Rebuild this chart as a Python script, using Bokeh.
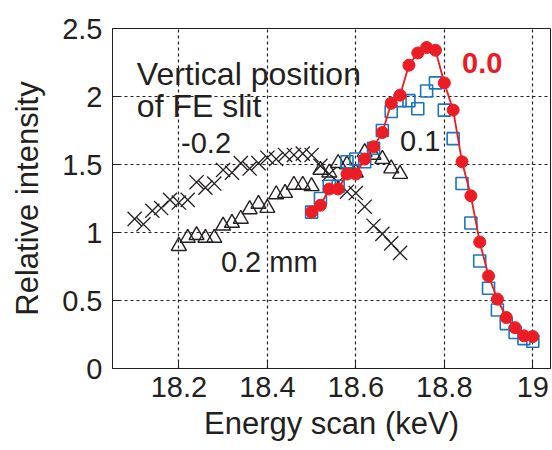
from bokeh.plotting import figure
from bokeh.models import (Range1d, FixedTicker, CustomJSTickFormatter, Label)
from bokeh.embed import file_html
from bokeh.resources import INLINE

# ---- data ----
red_x = [18.50, 18.52, 18.54, 18.56, 18.58, 18.60, 18.62, 18.64, 18.66, 18.68, 18.70, 18.72, 18.74,
         18.76, 18.78, 18.80, 18.82, 18.84, 18.86, 18.88, 18.90, 18.92, 18.94, 18.96, 18.98, 19.00]
red_y = [1.15, 1.20, 1.32, 1.32, 1.43, 1.43, 1.54, 1.63, 1.735, 1.95, 2.01, 2.23, 2.32,
         2.36, 2.34, 2.10, 1.90, 1.52, 1.27, 0.93, 0.68, 0.51, 0.375, 0.30, 0.24, 0.235]

blue_x = [18.50, 18.52, 18.54, 18.56, 18.58, 18.60, 18.62, 18.64, 18.66, 18.68, 18.70, 18.72, 18.74,
          18.76, 18.78, 18.80, 18.82, 18.84, 18.86, 18.88, 18.90, 18.92, 18.94, 18.96, 18.98, 19.00]
blue_y = [1.15, 1.25, 1.34, 1.34, 1.52, 1.54, 1.52, 1.62, 1.75, 1.89, 1.97, 1.97, 1.91,
          2.04, 2.10, 1.90, 1.69, 1.36, 1.07, 0.79, 0.59, 0.43, 0.33, 0.265, 0.22, 0.20]

tri_x = [18.20, 18.22, 18.24, 18.26, 18.28, 18.30, 18.32, 18.34, 18.36, 18.38, 18.40, 18.42, 18.44,
         18.46, 18.48, 18.50, 18.52, 18.54, 18.56, 18.58, 18.60, 18.62, 18.64, 18.66, 18.68, 18.70]
tri_y = [0.90, 0.96, 0.98, 0.96, 0.96, 1.05, 1.07, 1.10, 1.17, 1.21, 1.18, 1.28, 1.29,
         1.35, 1.35, 1.34, 1.46, 1.44, 1.51, 1.50, 1.44, 1.59, 1.57, 1.54, 1.47, 1.43]

crs_x = [18.10, 18.12, 18.14, 18.16, 18.18, 18.20, 18.22, 18.24, 18.26, 18.28, 18.30, 18.32, 18.34,
         18.36, 18.38, 18.40, 18.42, 18.44, 18.46, 18.48, 18.50, 18.52, 18.54, 18.56, 18.58, 18.60,
         18.62, 18.64, 18.66, 18.68, 18.70]
crs_y = [1.10, 1.06, 1.16, 1.18, 1.24, 1.22, 1.24, 1.37, 1.33, 1.36, 1.46, 1.44, 1.51,
         1.47, 1.51, 1.55, 1.54, 1.57, 1.57, 1.58, 1.57, 1.49, 1.43, 1.37, 1.30, 1.29,
         1.19, 1.05, 0.99, 0.92, 0.85]

x_ticks = [18.2, 18.4, 18.6, 18.8, 19.0]
y_ticks = [0, 0.5, 1.0, 1.5, 2.0, 2.5]

RED = "#ec1c24"
BLUE = "#1b75bc"
TXT = "#231f20"
FONT = "Liberation Sans"

p = figure(width=552, height=450, output_backend="svg", toolbar_location=None,
           x_range=Range1d(18.05, 19.04), y_range=Range1d(0, 2.5),
           min_border_left=112, min_border_right=2, min_border_top=28, min_border_bottom=82)
p.background_fill_color = "white"
p.border_fill_color = "white"
p.outline_line_color = "#231f20"
p.outline_line_width = 1

fmt = CustomJSTickFormatter(code="return String(Number(tick.toFixed(1)));")

for ax, ticks in ((p.xaxis[0], x_ticks), (p.yaxis[0], y_ticks)):
    ax.ticker = FixedTicker(ticks=ticks)
    ax.formatter = fmt
    ax.major_tick_in = 8
    ax.major_tick_out = 0
    ax.minor_tick_in = 0
    ax.minor_tick_out = 0
    ax.axis_line_color = TXT
    ax.major_tick_line_color = TXT
    ax.major_label_text_font = FONT
    ax.major_label_text_font_size = "29px"
    ax.major_label_text_color = TXT
    ax.axis_label_text_font = FONT
    ax.axis_label_text_font_size = "31px"
    ax.axis_label_text_font_style = "normal"
    ax.axis_label_text_color = TXT

p.xaxis.axis_label = "Energy scan (keV)"
p.yaxis.axis_label = "Relative intensity"
p.xaxis.major_label_standoff = 8
p.xaxis.axis_label_standoff = 6
p.yaxis.major_label_standoff = 10
p.yaxis.axis_label_standoff = 14

p.xgrid.ticker = FixedTicker(ticks=x_ticks)
p.ygrid.ticker = FixedTicker(ticks=y_ticks)
for g in (p.xgrid[0], p.ygrid[0]):
    g.grid_line_color = "#231f20"
    g.grid_line_dash = "3 3"
    g.grid_line_width = 1.2

# series
p.scatter(crs_x, crs_y, marker="x", size=20, line_color="#231f20", line_width=1.3)
p.scatter(tri_x, tri_y, marker="triangle", size=15, line_color="#231f20", fill_color=None, line_width=1.4)
p.scatter(blue_x, blue_y, marker="square", size=12, line_color=BLUE, fill_color=None, line_width=1.6)
p.line(red_x, red_y, line_color=RED, line_width=1.8)
p.scatter(red_x, red_y, marker="circle", size=12, line_color=RED, fill_color=RED)

# annotations
labels = [
    ("Vertical position", 18.105, 2.165, TXT, "normal", "32px"),
    ("of FE slit", 18.105, 1.93, TXT, "normal", "32px"),
    ("-0.2", 18.205, 1.655, TXT, "normal", "29px"),
    ("0.1", 18.70, 1.675, TXT, "normal", "29px"),
    ("0.2 mm", 18.295, 0.78, TXT, "normal", "29px"),
    ("0.0", 18.840, 2.245, RED, "bold", "29px"),
]
for t, x, y, c, st, fs in labels:
    p.add_layout(Label(x=x, y=y, text=t, text_font=FONT, text_font_size=fs,
                       text_color=c, text_font_style=st, text_baseline="alphabetic",
                       text_align="left"))

open("out.html", "w").write(file_html(p, INLINE))
